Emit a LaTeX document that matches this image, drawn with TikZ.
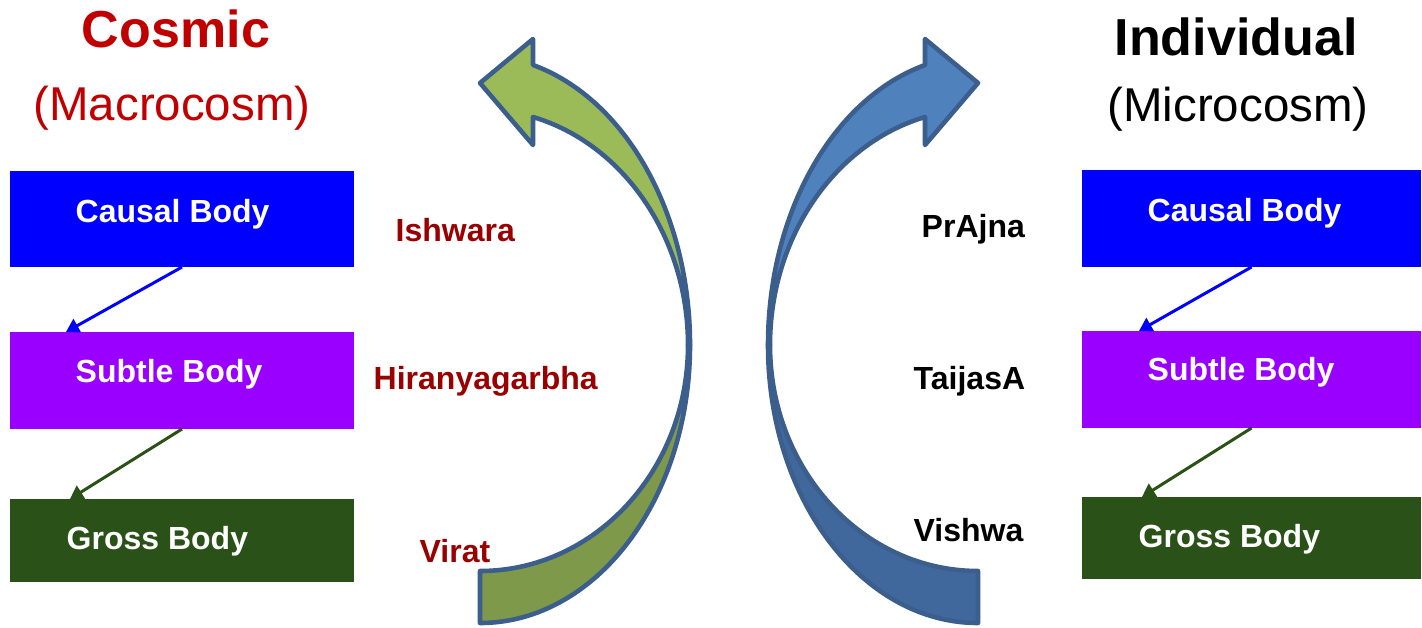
\documentclass[tikz,border=0pt]{standalone}
\usepackage{fontspec}
\setmainfont{Liberation Sans}
\usetikzlibrary{arrows.meta}

\definecolor{causalblue}{HTML}{0000FF}
\definecolor{subtlepurple}{HTML}{9900FF}
\definecolor{grossgreen}{HTML}{2A5118}
\definecolor{titlered}{HTML}{C00000}
\definecolor{namered}{HTML}{990000}
\definecolor{arrowline}{HTML}{3B5E8C}
\definecolor{greenfront}{HTML}{9BBB59}
\definecolor{greenback}{HTML}{7E994A}
\definecolor{bluefront}{HTML}{4F81BD}
\definecolor{blueback}{HTML}{41689C}

\tikzset{
  bodybox/.style={inner sep=0, outer sep=0, minimum width=3.44cm},
  bodytext/.style={anchor=base west, inner sep=0, text=white,
    font=\fontsize{9.1pt}{11pt}\selectfont\bfseries},
  selfname/.style={anchor=base west, inner sep=0,
    font=\fontsize{9.1pt}{11pt}\selectfont\bfseries},
  heading/.style={anchor=base, inner sep=0,
    font=\fontsize{14.8pt}{17pt}\selectfont\bfseries},
  subheading/.style={anchor=base, inner sep=0,
    font=\fontsize{13.5pt}{16pt}\selectfont},
  bodyarrow/.style={line width=0.85pt, -{Triangle[length=0.13cm,width=0.15cm]}},
  bigarrow/.style={line width=1.3pt, draw=arrowline, line join=round}
}

\begin{document}
\begin{tikzpicture}[x=0.01cm, y=-0.01cm]
  \useasboundingbox (0,0) rectangle (1422,627);

  % headings
  \node[heading, text=titlered] (cosmic) at (176,47) {Cosmic};
  \node[subheading, text=titlered] (macro) at (172,120) {(Macrocosm)};
  \node[heading] (individual) at (1236,55) {Individual};
  \node[subheading] (micro) at (1238,121) {(Microcosm)};

  % cosmic bodies
  \node[bodybox, fill=causalblue, minimum height=0.96cm] (causalL) at (182,219) {};
  \node[bodybox, fill=subtlepurple, minimum height=0.97cm] (subtleL) at (182,380.5) {};
  \node[bodybox, fill=grossgreen, minimum height=0.83cm] (grossL) at (182,540.5) {};
  \node[bodytext] (causalLtext) at (75,222) {Causal Body};
  \node[bodytext] (subtleLtext) at (75,382) {Subtle Body};
  \node[bodytext] (grossLtext) at (66,549) {Gross Body};

  \draw[bodyarrow, causalblue] (causalL.south) -- ([xshift=0.56cm]subtleL.north west);
  \draw[bodyarrow, grossgreen] (subtleL.south) -- ([xshift=0.60cm]grossL.north west);

  % individual bodies
  \begin{scope}[bodybox/.append style={minimum width=3.39cm}]
    \node[bodybox, fill=causalblue, minimum height=0.97cm] (causalR) at (1251.5,218.5) {};
    \node[bodybox, fill=subtlepurple, minimum height=0.97cm] (subtleR) at (1251.5,379.5) {};
    \node[bodybox, fill=grossgreen, minimum height=0.82cm] (grossR) at (1251.5,538) {};
  \end{scope}
  \node[bodytext] (causalRtext) at (1147,221) {Causal Body};
  \node[bodytext] (subtleRtext) at (1147,380) {Subtle Body};
  \node[bodytext] (grossRtext) at (1138,547) {Gross Body};

  \draw[bodyarrow, causalblue] (causalR.south) -- ([xshift=0.57cm]subtleR.north west);
  \draw[bodyarrow, grossgreen] (subtleR.south) -- ([xshift=0.60cm]grossR.north west);

  % names
  \node[selfname, text=namered] (ishwara) at (395,241) {Ishwara};
  \node[selfname, text=namered] (hiranya) at (373,389) {Hiranyagarbha};
  \node[selfname, text=namered] (virat) at (419,562) {Virat};
  \node[selfname] (prajna) at (921,237) {PrAjna};
  \node[selfname] (taijasa) at (913,389) {TaijasA};
  \node[selfname] (vishwa) at (913,541) {Vishwa};

  % curved arrows
  \filldraw[bigarrow, fill=greenback] (688,345) .. controls (688,470) and (595,571) .. (480,571)
    -- (480,623) .. controls (596,623) and (690,499) .. (690,345) -- cycle;
  \filldraw[bigarrow, fill=greenfront] (533,65) -- (533,39) -- (480,83) -- (533,145) -- (533,117)
    .. controls (624,144) and (688,238) .. (688,345) -- (690,345)
    .. controls (690,214) and (626,99) .. (533,65) -- cycle;

  \begin{scope}[shift={(1458,0)}, xscale=-1]
    \filldraw[bigarrow, fill=blueback] (688,345) .. controls (688,470) and (595,571) .. (480,571)
      -- (480,623) .. controls (596,623) and (690,499) .. (690,345) -- cycle;
    \filldraw[bigarrow, fill=bluefront] (533,65) -- (533,39) -- (480,83) -- (533,145) -- (533,117)
      .. controls (624,144) and (688,238) .. (688,345) -- (690,345)
      .. controls (690,214) and (626,99) .. (533,65) -- cycle;
  \end{scope}
\end{tikzpicture}
\end{document}
